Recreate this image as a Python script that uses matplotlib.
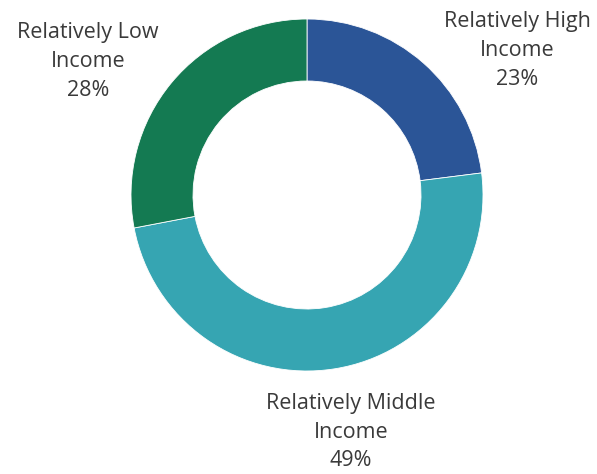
import matplotlib
matplotlib.use("Agg")
import matplotlib.pyplot as plt

categories = ["Relatively High\nIncome", "Relatively Middle\nIncome", "Relatively Low\nIncome"]
values = [23, 49, 28]
colors = ["#2B5597", "#36A5B2", "#147A52"]

W, H = 597, 474
fig = plt.figure(figsize=(W / 100, H / 100), dpi=100)
ax = fig.add_axes([0, 0, 1, 1])

cx, cy, R = 307, H - 195, 176
ax.pie(values, colors=colors, startangle=90, counterclock=False,
       center=(cx, cy), radius=R, frame=True,
       wedgeprops=dict(width=62, edgecolor="white", linewidth=0.6))
ax.set_xlim(0, W)
ax.set_ylim(0, H)
ax.set_aspect("equal")
ax.axis("off")

label_pos = [(517, 50), (351, 432), (88, 61)]
for cat, v, (x, y) in zip(categories, values, label_pos):
    ax.text(x, H - y, f"{cat}\n{v}%", ha="center", va="center",
            fontsize=15.5, family="Open Sans", color="#3a3a3a", linespacing=1.5)

fig.savefig("out.png", dpi=100)
